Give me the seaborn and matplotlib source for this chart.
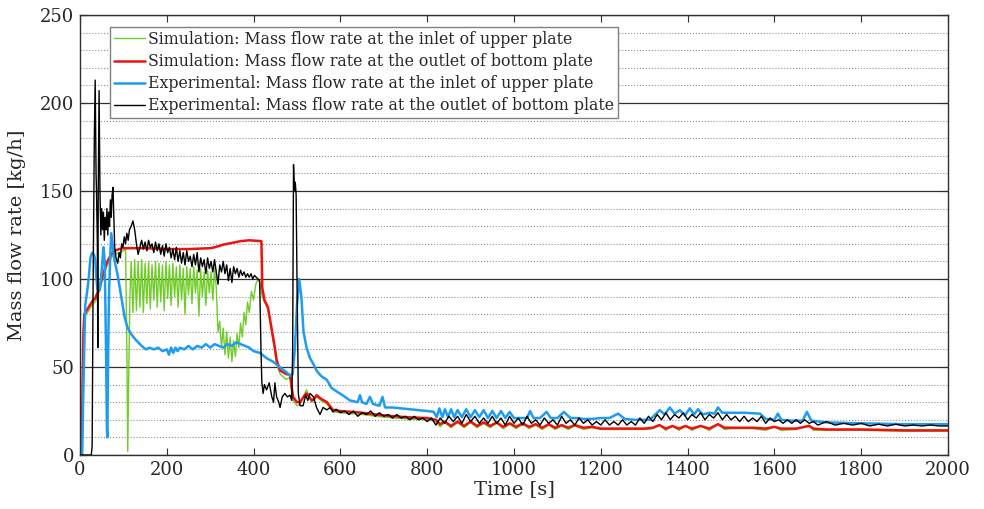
import numpy as np
import pandas as pd
import seaborn as sns
import matplotlib.pyplot as plt
from matplotlib.ticker import MultipleLocator

# values: time [s] and mass flow rate [kg/h]

# Simulation, inlet of upper plate (green)
sim_in_t = [0, 2, 4, 6, 8, 10, 15, 20, 25, 30, 35, 40, 45, 50, 55, 60, 65, 70, 75, 80, 90, 100, 105,
            108, 110, 112, 115, 118, 122, 126, 130, 134, 138, 142, 146, 150, 154, 158, 162, 166, 170,
            174, 178, 182, 186, 190, 194, 198, 202, 206, 210, 214, 218, 222, 226, 230, 234, 238, 242,
            246, 250, 254, 258, 262, 266, 270, 274, 278, 282, 286, 290, 294, 298, 302, 306,
            310, 314, 318, 322, 326, 330, 334, 338, 342, 346, 350, 354, 358, 362, 366, 370, 374, 378,
            382, 386, 390, 395, 400, 405, 410, 415, 420, 425, 433, 442, 449, 453, 461, 475, 484, 491,
            500, 507, 514, 522, 534, 545, 555, 569, 583, 600, 650, 700, 750, 800, 820, 830, 840, 855,
            870, 885, 900, 915, 930, 945, 960, 975, 990, 1005, 1020, 1035, 1050, 1065, 1080, 1095,
            1110, 1125, 1140, 1160, 1180, 1200, 1250, 1300, 1320, 1335, 1350, 1365, 1380, 1395, 1410,
            1430, 1450, 1470, 1485, 1500, 1550, 1580, 1600, 1615, 1650, 1680, 1690, 1720, 1800, 1900,
            2000]
sim_in_v = [0, 2, 4, 38, 68, 78, 80, 82, 84, 86, 87, 90, 93, 98, 102, 106, 109, 111, 113, 114, 115, 116,
            117, 60, 2, 40, 90, 110, 81, 111, 82, 110, 84, 111, 81, 109, 86, 110, 83, 108, 88,
            110, 84, 109, 87, 108, 82, 110, 89, 108, 85, 109, 90, 107, 84, 108, 88, 106, 80,
            107, 91, 106, 86, 107, 92, 105, 79, 106, 90, 104, 85, 105, 92, 104, 88,
            106, 95, 70, 76, 61, 72, 57, 70, 55, 67, 53, 65, 56, 69, 61, 75, 67, 81,
            74, 87, 81, 93, 88, 97, 100, 97, 90, 87, 83, 69, 59, 52, 46, 43, 44, 31,
            28, 29, 33, 37, 30, 33, 31, 29, 24.5, 24, 23, 21.5, 20.5, 20, 19, 16, 18.5, 15.5,
            18.5, 15.5, 18.5, 15.5, 18, 15.5, 18, 15, 17.5, 15, 17.5, 15, 17, 14.5, 17, 14.5,
            16.5, 14.5, 16.5, 14.5, 15.5, 14.5, 14.5, 14.5, 15, 17, 14, 16.5, 14, 16.5, 14,
            16.5, 14, 17.5, 14.5, 15, 15, 14, 16, 14, 14.5, 17, 14, 14, 14, 13.5,
            13.5]

# Simulation, outlet of bottom plate (red)
sim_out_t = [0, 2, 4, 6, 8, 10, 15, 20, 25, 30, 35, 40, 45, 50, 55, 60, 65, 70, 75, 80, 90, 100, 150,
             200, 250, 300, 310, 330, 350, 370, 390, 418, 420, 425, 433, 442, 449, 453, 461, 475, 484,
             488, 491, 500, 507, 515, 522, 528, 534, 540, 545, 555, 569, 583, 600, 650, 700, 750, 800,
             820, 830, 840, 855, 870, 885, 900, 915, 930, 945, 960, 975, 990, 1005, 1020, 1035, 1050,
             1065, 1080, 1095, 1110, 1125, 1140, 1160, 1180, 1200, 1250, 1300, 1320, 1335, 1350, 1365,
             1380, 1395, 1410, 1430, 1450, 1470, 1485, 1500, 1550, 1580, 1600, 1615, 1650, 1680, 1690,
             1720, 1800, 1900, 2000]
sim_out_v = [0, 3, 5, 40, 70, 80, 82, 84, 86, 88, 89, 92, 95, 100, 104, 108, 111, 113, 115, 116, 117,
             117.5, 117.5, 117, 117, 117.5, 118, 119.5, 120.5, 121.5, 122, 121.5, 95, 88, 84, 71, 61,
             54, 48, 46, 45.5, 38, 33, 30, 30, 33, 35, 33, 31, 32, 34, 32, 30, 25.6, 25, 24, 22.5,
             21.5, 21, 20, 17.5, 19, 16.5, 19, 16.5, 19, 16.5, 18.5, 16.5, 18.5, 16, 18, 16, 18, 16,
             17.5, 15.5, 17.5, 15.5, 17, 15.5, 17, 15.5, 16, 15, 15, 15, 15.5, 17, 15, 16.5, 15,
             16.5, 15, 16.5, 15, 17.5, 15.5, 15.5, 15.5, 15, 16, 15, 15, 16.5, 15, 14.5, 14.5, 14,
             14]

# Experimental, inlet of upper plate (blue)
exp_in_t = [0, 5, 8, 12, 16, 20, 24, 28, 32, 35, 38, 40, 42, 46, 50, 54, 57, 60, 62, 63, 65, 67, 70,
            72, 75, 80, 87, 95, 103, 110, 120, 130, 142, 152, 160, 170, 180, 190, 200, 205, 210, 215,
            220, 225, 230, 240, 250, 260, 270, 280, 290, 300, 310, 320, 330, 340, 350, 360, 370, 380,
            390, 400, 415, 430, 445, 460, 476, 484, 490, 495, 500, 505, 510, 515, 522, 530, 537, 545,
            555, 569, 580, 592, 605, 622, 640, 645, 650, 660, 668, 675, 690, 697, 703, 720, 760, 800,
            815, 822, 828, 835, 841, 848, 855, 862, 870, 880, 890, 900, 910, 920, 930, 940, 950, 960,
            970, 980, 990, 1000, 1015, 1030, 1037, 1045, 1060, 1075, 1085, 1100, 1115, 1130, 1145,
            1160, 1180, 1200, 1220, 1240, 1255, 1280, 1313, 1336, 1347, 1359, 1370, 1382, 1394, 1405,
            1415, 1424, 1435, 1450, 1462, 1470, 1480, 1500, 1530, 1567, 1580, 1600, 1608, 1616, 1640,
            1665, 1675, 1685, 1720, 1800, 1900, 2000]
exp_in_v = [0, 0, 40, 85, 92, 100, 112, 115, 114, 111, 100, 94, 96, 94, 105, 118, 110, 60, 15, 10, 60,
            93, 115, 126, 120, 110, 102, 90, 78, 72, 68, 65, 62, 60, 61, 60, 61, 59, 60, 57, 61, 58,
            61, 59, 61, 60, 62, 60, 62, 61, 63, 61, 63, 62, 61, 63, 62, 64, 63, 62,
            61, 59, 58, 55, 53, 50, 47, 45, 46, 60, 85, 100, 90, 70, 61, 55, 52, 48,
            45, 42.6, 38, 36, 34, 31, 30, 34, 30, 29, 33, 29, 28, 33, 27, 27, 26, 25,
            24.5, 21.5, 26.5, 21.5, 26, 21.5, 26, 21.5, 25.5, 21.5, 26, 21.5, 25.5, 21.5, 25.5, 21, 25, 21,
            25, 21, 24.5, 21, 21, 21, 25, 21, 21, 24.5, 21, 21, 24.5, 21, 21,
            20.5, 20.5, 21, 21, 23.5, 20.5, 20, 20, 25.5, 23, 27, 23.5, 25.5, 22.5, 26.5,
            23, 26, 23, 24, 23.5, 27, 24, 24, 24, 23.5, 20.5, 20, 23.5, 20, 19.5,
            19.5, 24.5, 19.5, 18.5, 18, 17.5, 17.5]

# Experimental, outlet of bottom plate (black)
exp_out_t = [0, 26, 28, 30, 33, 35, 37, 38, 40, 41, 42, 44, 46, 48, 50, 52, 54, 56, 58, 60, 62, 64, 66,
             68, 70, 72, 74, 76, 78, 80, 83, 87, 90, 93, 96, 99, 102, 105, 108, 111, 114, 118, 122, 126,
             130, 134, 138, 142, 146, 150, 154, 158, 162, 166, 170, 174, 178, 182, 186, 190, 194, 198,
             202, 206, 210, 214, 218, 222, 226, 230, 234, 238, 242, 246, 250, 254, 258, 262, 266, 270,
             274, 278, 282, 286, 290, 294, 298, 302, 306, 310, 314, 318, 322, 326, 330, 334, 338, 342,
             346, 350, 354, 358, 362, 366, 370, 374, 378, 382, 386, 390, 394, 398, 402, 406, 410, 414,
             417, 419, 422, 425, 430, 436, 442, 446, 449, 453, 458, 461, 466, 472, 478, 484, 488, 490,
             492, 494, 496, 498, 500, 503, 507, 514, 520, 525, 530, 538, 545, 553, 560, 569, 576, 583,
             590, 600, 610, 620, 630, 640, 650, 660, 670, 680, 690, 700, 710, 720, 730, 740, 750, 760,
             770, 780, 790, 800, 810, 820, 830, 840, 850, 860, 870, 880, 890, 900, 910, 920, 930, 940,
             950, 960, 970, 980, 990, 1000, 1010, 1020, 1030, 1040, 1050, 1060, 1070, 1080, 1090, 1100,
             1110, 1120, 1130, 1140, 1150, 1160, 1170, 1180, 1190, 1200, 1210, 1220, 1230, 1240, 1250,
             1260, 1270, 1280, 1290, 1300, 1310, 1320, 1330, 1340, 1350, 1360, 1370, 1380, 1390, 1400,
             1410, 1420, 1430, 1440, 1450, 1460, 1470, 1480, 1490, 1500, 1510, 1520, 1530, 1540, 1550,
             1560, 1570, 1580, 1590, 1600, 1610, 1620, 1630, 1640, 1650, 1660, 1670, 1680, 1690, 1700,
             1720, 1740, 1760, 1780, 1800, 1820, 1840, 1860, 1880, 1900, 1920, 1940, 1960, 1980, 2000]
exp_out_v = [0, 0, 5, 90, 180, 213, 160, 150, 120, 61, 150, 207, 150, 125, 140, 128, 138, 122, 135, 128,
             140, 125, 138, 130, 145, 135, 148, 152, 135, 118, 112, 109, 115, 112, 120, 118, 124, 120,
             126, 122, 128, 130, 133, 128, 120, 114, 118, 122, 117, 121, 116, 122, 118, 120, 115, 121,
             116, 120, 114, 119, 113, 120, 115, 118, 112, 117, 111, 118, 110, 116, 109, 115, 108, 116,
             110, 113, 107, 114, 108, 115, 104, 112, 107, 111, 103, 112, 106, 110, 104, 111, 104, 97,
             108, 104, 110, 103, 108, 99, 106, 98, 107, 103, 106, 101, 105, 102, 104, 101, 103, 101,
             103, 100, 102, 101, 100, 99, 60, 41, 35, 40, 37, 41, 33, 30, 41, 33, 30, 27, 33, 35, 33,
             34, 31, 60, 165, 150, 155, 148, 100, 35, 28, 28, 34, 31, 35, 33, 27, 23, 27, 25.6, 27,
             24.5, 26, 24, 25, 23, 25, 22, 24, 23, 25, 22, 24, 22, 23, 21, 23, 21, 22, 20, 22, 20, 21,
             19, 21, 17, 21, 18, 22, 19, 22, 18, 23, 19, 22, 18, 21, 18, 22, 18, 21, 17, 22, 18, 21,
             17, 22, 18, 20, 17, 21, 18, 20, 17, 22, 18, 20, 17, 21, 18, 20, 17, 19, 17, 20, 17, 19,
             17, 20, 17, 19, 17, 21, 18, 22, 19, 23, 20, 24, 20, 23, 21, 24, 20, 23, 21, 24, 20, 23,
             21, 24, 20, 23, 20, 22, 19, 22, 19, 21, 19, 22, 18, 21, 19, 20, 18, 20, 18, 20, 18, 20,
             18, 19, 17, 19, 17, 18, 17, 18, 16.5, 17.5, 16.5, 17.5, 16.5, 17, 16.5, 17, 16.5, 16.5]

labels = ["Simulation: Mass flow rate at the inlet of upper plate",
          "Simulation: Mass flow rate at the outlet of bottom plate",
          "Experimental: Mass flow rate at the inlet of upper plate",
          "Experimental: Mass flow rate at the outlet of bottom plate"]

sns.set_style("ticks")
plt.rcParams['font.family'] = ['DejaVu Serif']

fig = plt.figure(figsize=(9.84, 5.09), dpi=100)
ax = fig.add_axes([0.0813, 0.1061, 0.8821, 0.8644])

series = [(sim_in_t, sim_in_v, '#70cc28', 1.0),
          (sim_out_t, sim_out_v, '#ee1111', 1.8),
          (exp_in_t, exp_in_v, '#1e9cf0', 1.8),
          (exp_out_t, exp_out_v, '#000000', 1.0)]
for (t, v, col, lw), lab in zip(series, labels):
    sns.lineplot(x=t, y=v, ax=ax, color=col, linewidth=lw, label=lab,
                 sort=False, estimator=None)

ax.set_xlim(0, 2000)
ax.set_ylim(0, 250)
ax.set_xticks(range(0, 2001, 200))
ax.set_yticks(range(0, 251, 50))
ax.yaxis.set_minor_locator(MultipleLocator(10))
ax.yaxis.grid(True, which='major', color='#303030', linewidth=0.9)
ax.yaxis.grid(True, which='minor', color='#909090', linestyle=':', linewidth=0.8)
ax.set_axisbelow(True)
ax.tick_params(which='major', direction='in', top=True, right=True, length=5,
               labelsize=13, color='#303030', pad=4)
ax.tick_params(which='minor', length=0)
for s in ax.spines.values():
    s.set_color('#303030')
    s.set_linewidth(1.0)

ax.set_xlabel("Time [s]", fontsize=14, labelpad=1)
ax.set_ylabel("Mass flow rate [kg/h]", fontsize=14, labelpad=10)

ax.legend(loc='upper left', bbox_to_anchor=(0.0346, 0.9727), borderaxespad=0,
          fancybox=False, edgecolor='#808080', framealpha=1, fontsize=11.3,
          handlelength=2.0, handletextpad=0.15, borderpad=0.25, labelspacing=0.33)

plt.savefig("out.png", dpi=100)
